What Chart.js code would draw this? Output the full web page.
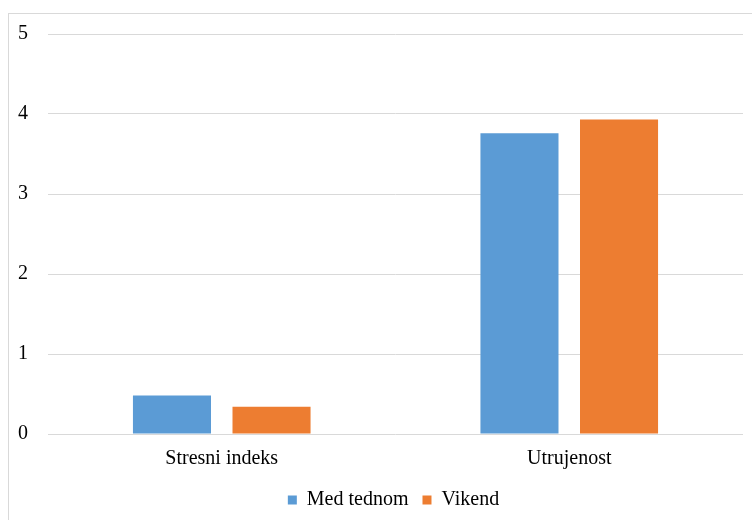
<!DOCTYPE html>
<html>
<head>
<meta charset="utf-8">
<script src="https://cdn.jsdelivr.net/npm/chart.js@4.4.1/dist/chart.umd.min.js"></script>
<style>
  html, body { margin: 0; padding: 0; background: #fff; overflow: hidden; }
  #frame { position: absolute; left: 8px; top: 13px; width: 900px; height: 700px; border: 1px solid #d9d9d9; }
  #wrap { position: absolute; left: 0; top: 0; width: 752px; height: 520px; }
</style>
</head>
<body>
<div id="frame"></div>
<div id="wrap"><canvas id="chart" width="752" height="520"></canvas></div>
<script>
// Categories and the two series (average scores)
const categories = ['Stresni indeks', 'Utrujenost'];
const medTednom = [0.48, 3.76];
const vikend = [0.34, 3.93];
const seriesNames = ['Med tednom', 'Vikend'];
const yTicks = [0, 1, 2, 3, 4, 5];

const FONT = { family: '"Liberation Serif", "Times New Roman", serif', size: 20 };

// Centre the legend under the framed area rather than the padded layout box
const legendShift = {
  id: 'legendShift',
  afterLayout(chart) {
    if (chart.legend) { chart.legend.left += 16; chart.legend.right += 16; }
  }
};

new Chart(document.getElementById('chart'), {
  type: 'bar',
  data: {
    labels: categories,
    datasets: [
      { label: seriesNames[0], data: medTednom, backgroundColor: '#5b9bd5' },
      { label: seriesNames[1], data: vikend, backgroundColor: '#ed7d31' }
    ]
  },
  plugins: [legendShift],
  options: {
    responsive: false,
    animation: false,
    devicePixelRatio: 1,
    categoryPercentage: 0.573,
    barPercentage: 0.784,
    layout: { padding: { left: 12, right: 9, top: 34, bottom: 0 } },
    plugins: {
      tooltip: { enabled: false },
      legend: {
        position: 'bottom',
        labels: {
          font: FONT,
          color: '#000',
          boxWidth: 9,
          boxHeight: 9,
          padding: 14
        }
      }
    },
    scales: {
      x: {
        grid: { display: false, drawTicks: false },
        border: { display: false },
        ticks: { font: FONT, color: '#000', padding: 13 },
        afterFit: (s) => { s.height = 42; }
      },
      y: {
        min: 0,
        max: 5,
        afterBuildTicks: (s) => { s.ticks = yTicks.map(v => ({ value: v })); },
        grid: { color: '#d9d9d9', lineWidth: 1, drawTicks: false },
        border: { display: false },
        ticks: { font: FONT, color: '#000', padding: 20 },
        afterFit: (s) => { s.width = 36; }
      }
    }
  }
});
</script>
</body>
</html>
